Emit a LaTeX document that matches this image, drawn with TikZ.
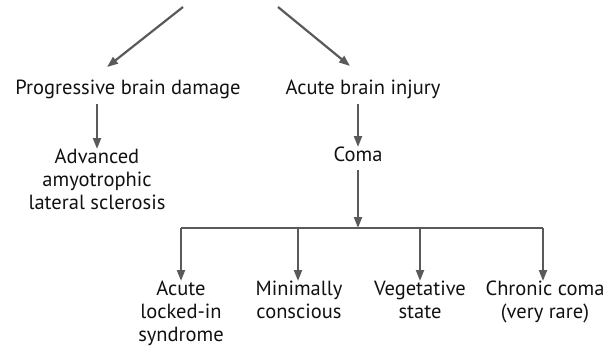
\documentclass[tikz,border=0pt]{standalone}
\usepackage{fontspec}
\setmainfont{PT Sans}
\usetikzlibrary{arrows.meta}
\definecolor{arrgray}{HTML}{5A5A5A}
\definecolor{txt}{HTML}{111111}
\tikzset{
  arr/.style={draw=arrgray, line width=2.2pt, -{Triangle[length=11pt,width=8pt]}},
  ln/.style={draw=arrgray, line width=2.2pt},
  lbl/.style={text=txt, font=\fontsize{20.5}{23}\selectfont, align=center, inner sep=0pt}
}
\begin{document}
\begin{tikzpicture}[x=1pt,y=-1pt]
\useasboundingbox (0,0) rectangle (608,354);
\coordinate (tl) at (183,7);
\coordinate (tr) at (278,7);
\coordinate (tlend) at (107,67);
\coordinate (trend) at (350,66);
\node[lbl] (prog) at (128,89) {Progressive brain damage};
\node[lbl] (acute) at (363,89) {Acute brain injury};
\node[lbl, anchor=north] (als) at (97,149) {Advanced\\amyotrophic\\lateral sclerosis};
\node[lbl, anchor=north] (coma) at (358,147) {Coma};
\coordinate (pa) at (97,104);
\coordinate (ca) at (358,104);
\coordinate (cb) at (358,170);
\coordinate (mid) at (358,228);
\coordinate (bl) at (181,228);
\coordinate (br) at (543,228);
\coordinate (b2) at (298,228);
\coordinate (b3) at (420,228);
\node[lbl, anchor=north] (l1) at (181,281) {Acute\\locked-in\\syndrome};
\node[lbl, anchor=north] (l2) at (299,281) {Minimally\\conscious};
\node[lbl, anchor=north] (l3) at (420,281) {Vegetative\\state};
\node[lbl, anchor=north] (l4) at (545,281) {Chronic coma\\(very rare)};
\draw[arr] (tl) -- (tlend);
\draw[arr] (tr) -- (trend);
\draw[arr] (pa) -- (pa |- als.north);
\draw[arr] (ca) -- (coma.north);
\draw[arr] (cb) -- (mid);
\draw[ln] (bl) -- (br);
\draw[arr] (bl) -- (bl |- l1.north);
\draw[arr] (b2) -- (b2 |- l2.north);
\draw[arr] (b3) -- (b3 |- l3.north);
\draw[arr] (br) -- (br |- l4.north);
\end{tikzpicture}
\end{document}
